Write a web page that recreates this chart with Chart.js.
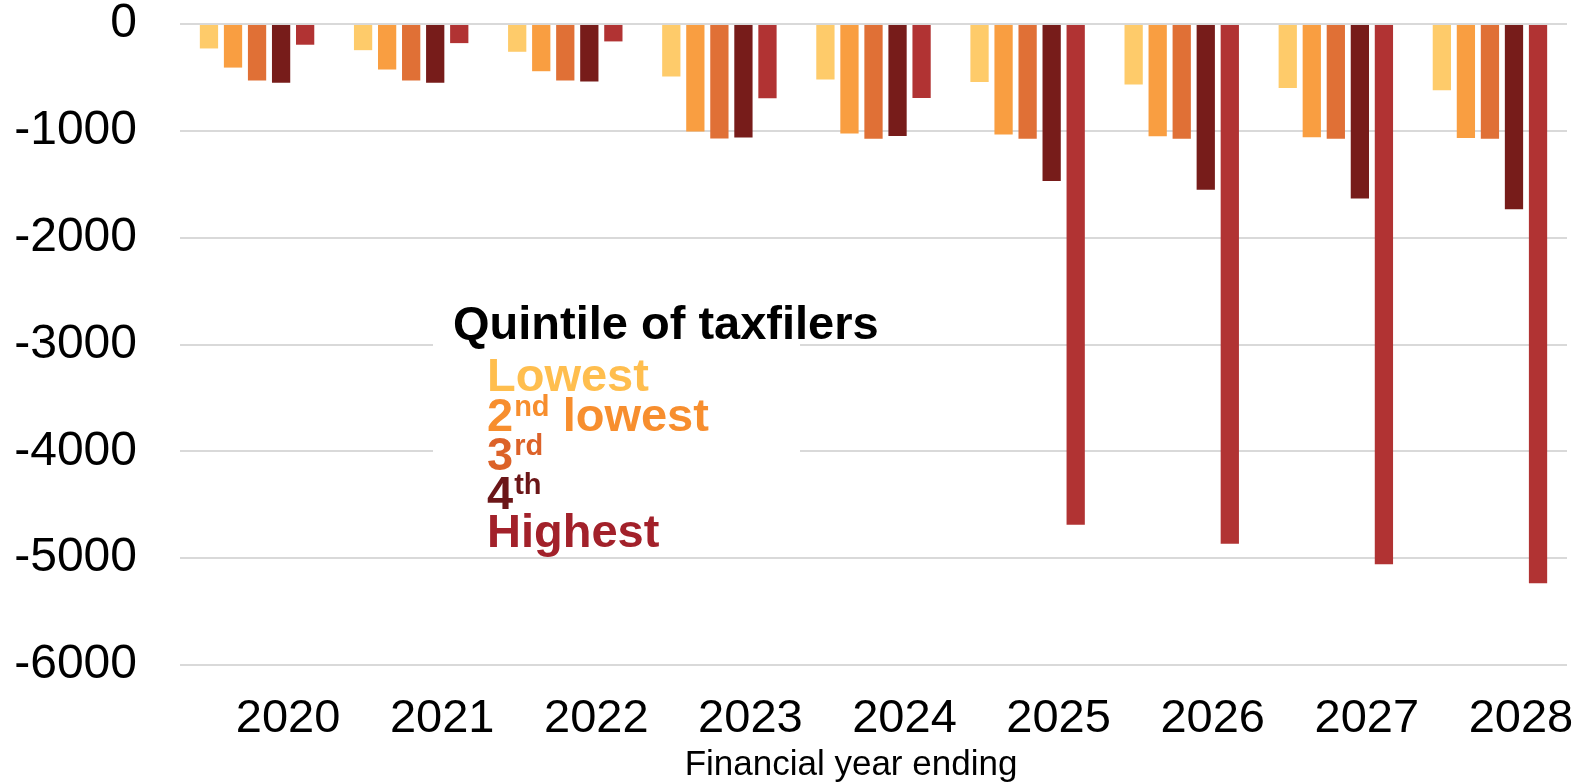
<!DOCTYPE html>
<html>
<head>
<meta charset="utf-8">
<script src="https://cdn.jsdelivr.net/npm/chart.js@4/dist/chart.umd.min.js"></script>
<style>
  html, body { margin: 0; padding: 0; background: #ffffff; }
  #wrap { width: 1575px; height: 783px; position: relative; }
</style>
</head>
<body>
<div id="wrap"><canvas id="chart"></canvas></div>
<script>
// Financial years (x categories)
const years = ['2020', '2021', '2022', '2023', '2024', '2025', '2026', '2027', '2028'];

// Change per taxfiler, by quintile
const lowest  = [-229, -245, -260, -492, -520, -542, -567, -599, -621];
const second  = [-408, -426, -442, -1006, -1025, -1034, -1050, -1060, -1066];
const third   = [-530, -530, -530, -1072, -1075, -1075, -1075, -1075, -1075];
const fourth  = [-549, -549, -539, -1063, -1048, -1470, -1552, -1633, -1734];
const highest = [-194, -179, -163, -696, -693, -4688, -4866, -5056, -5234];

// Y axis ticks
const yTicks = [0, -1000, -2000, -3000, -4000, -5000, -6000];

const FONT = '"Liberation Sans", Arial, Helvetica, sans-serif';
const barColors = ['#FECB6A', '#F99E41', '#E07036', '#771C1A', '#B13333'];
const textColors = ['#FFBE4E', '#F78E2E', '#DC6229', '#6B1618', '#A2212A'];

// Hand-drawn legend: title plus coloured labels with ordinal superscripts
const quintileLegend = {
  id: 'quintileLegend',
  afterDatasetsDraw(chart) {
    const ctx = chart.ctx;
    ctx.save();
    ctx.fillStyle = '#ffffff';
    ctx.fillRect(433, 282, 367, 268);

    ctx.textAlign = 'left';
    ctx.textBaseline = 'alphabetic';
    ctx.fillStyle = '#000000';
    ctx.font = 'bold 47px ' + FONT;
    ctx.fillText('Quintile of taxfilers', 453, 339);

    const items = [
      { main: 'Lowest', sup: '', rest: '', y: 391 },
      { main: '2', sup: 'nd', rest: ' lowest', y: 431 },
      { main: '3', sup: 'rd', rest: '', y: 470 },
      { main: '4', sup: 'th', rest: '', y: 509 },
      { main: 'Highest', sup: '', rest: '', y: 547 }
    ];
    items.forEach((it, i) => {
      let x = 487;
      ctx.fillStyle = textColors[i];
      ctx.font = 'bold 47px ' + FONT;
      ctx.fillText(it.main, x, it.y);
      x += ctx.measureText(it.main).width;
      if (it.sup) {
        ctx.font = 'bold 29px ' + FONT;
        ctx.fillText(it.sup, x + 1, it.y - 15);
        x += ctx.measureText(it.sup).width + 1;
      }
      if (it.rest) {
        ctx.font = 'bold 47px ' + FONT;
        ctx.fillText(it.rest, x, it.y);
      }
    });

    // axis caption under the year labels
    ctx.fillStyle = '#000000';
    ctx.font = '35px ' + FONT;
    ctx.textAlign = 'center';
    ctx.fillText('Financial year ending', 851, 775);
    ctx.restore();
  }
};

const names = ['Lowest', '2nd lowest', '3rd', '4th', 'Highest'];
const series = [lowest, second, third, fourth, highest];

new Chart(document.getElementById('chart'), {
  type: 'bar',
  data: {
    labels: years,
    datasets: series.map((vals, i) => ({
      label: names[i],
      data: vals,
      backgroundColor: barColors[i],
      borderWidth: 0,
      categoryPercentage: 0.78,
      barPercentage: 0.76
    }))
  },
  options: {
    responsive: true,
    maintainAspectRatio: false,
    animation: false,
    layout: { padding: { top: 24, right: 8, left: 0, bottom: 0 } },
    plugins: {
      legend: { display: false },
      tooltip: { enabled: false },
      title: { display: false }
    },
    scales: {
      x: {
        grid: { display: false, drawTicks: false },
        border: { display: false },
        ticks: {
          color: '#000000',
          font: { family: FONT, size: 47 },
          padding: 26,
          labelOffset: 31,
          maxRotation: 0,
          autoSkip: false
        },
        afterFit(scale) {
          scale.height = 118;
          scale.paddingLeft = 0;
          scale.paddingRight = 0;
        }
      },
      y: {
        min: -6000,
        max: 0,
        grid: { color: '#d9d9d9', lineWidth: 2, drawTicks: false },
        border: { display: false },
        afterBuildTicks(scale) { scale.ticks = yTicks.map(v => ({ value: v })); },
        ticks: {
          color: '#000000',
          font: { family: FONT, size: 48 },
          padding: 43,
          callback: (v) => String(v)
        },
        afterFit(scale) {
          scale.width = 180;
          scale.paddingTop = 0;
          scale.paddingBottom = 0;
        }
      }
    }
  },
  plugins: [quintileLegend]
});
</script>
</body>
</html>
